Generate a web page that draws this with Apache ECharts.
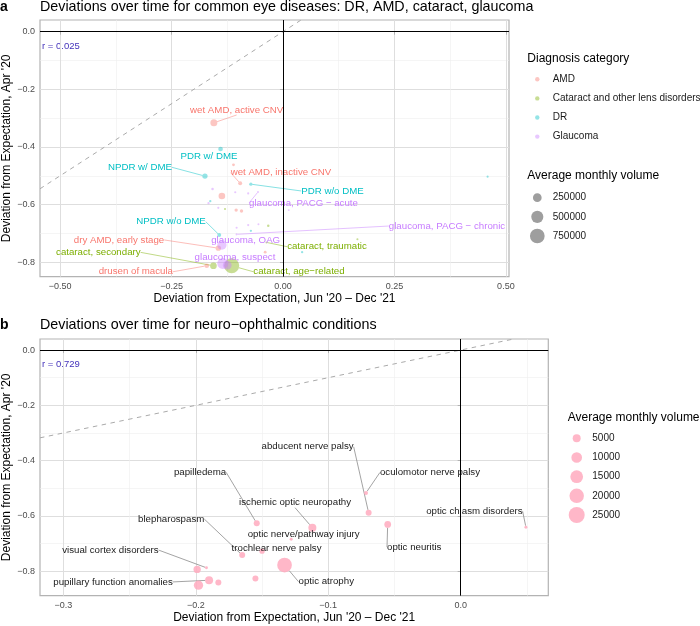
<!DOCTYPE html>
<html><head><meta charset="utf-8">
<script src="https://cdn.jsdelivr.net/npm/echarts@6/dist/echarts.min.js"></script>
<style>html,body{margin:0;padding:0;background:#fff}#c{width:700px;height:626px}</style>
</head><body><div id="c"></div>
<script>
// ---------------- Panel a data ----------------
const amdNames = ['wet AMD, active CNV','','wet AMD, inactive CNV','','','','dry AMD, early stage','','drusen of macula'];
const amdX = [-0.155,-0.111,-0.096,-0.137,-0.105,-0.093,-0.145,-0.040,-0.171];
const amdY = [-0.316,-0.462,-0.526,-0.570,-0.619,-0.622,-0.751,-0.765,-0.812];
const amdVol = [157000,20000,45000,140000,30000,30000,86000,20000,65000];

const catNames = ['','','cataract, traumatic','','cataract, secondary','cataract, age\u2212related'];
const catX = [-0.130,-0.033,-0.037,0.167,-0.156,-0.115];
const catY = [-0.615,-0.673,-0.731,-0.720,-0.812,-0.812];
const catVol = [10000,15000,8000,10000,143000,780000];

const drNames = ['PDR w/ DME','NPDR w/ DME','PDR w/o DME','','NPDR w/o DME','','',''];
const drX = [-0.140,-0.175,-0.072,-0.163,-0.143,-0.072,0.043,0.459];
const drY = [-0.407,-0.501,-0.529,-0.588,-0.705,-0.691,-0.765,-0.503];
const drVol = [65000,86000,30000,12000,45000,12000,12000,10000];

const glaNames = ['','','','glaucoma, PACG \u2212 acute','','','','','','','glaucoma, PACG \u2212 chronic','glaucoma, OAG','glaucoma, suspect',''];
const glaX = [-0.158,-0.107,-0.078,-0.056,0.013,-0.167,-0.145,-0.104,-0.078,-0.055,-0.104,-0.137,-0.135,-0.125];
const glaY = [-0.546,-0.557,-0.561,-0.556,-0.619,-0.595,-0.611,-0.680,-0.671,-0.668,-0.703,-0.740,-0.804,-0.810];
const glaVol = [15000,10000,10000,8000,8000,12000,10000,10000,10000,8000,10000,290000,410000,250000];

const categoriesA = ['AMD','Cataract and other lens disorders','DR','Glaucoma'];
const sizeBreaksA = [250000,500000,750000];
const xTicksA = [-0.5,-0.25,0,0.25,0.5];
const xMinorA = [-0.375,-0.125,0.125,0.375];
const yTicksA = [0,-0.2,-0.4,-0.6,-0.8];
const yMinorA = [-0.1,-0.3,-0.5,-0.7];
const rA = 'r = 0.025';

// ---------------- Panel b data ----------------
const neuroNames = ['visual cortex disorders','','','pupillary function anomalies','','blepharospasm','trochlear nerve palsy','papilledema','','optic atrophy','ischemic optic neuropathy','optic nerve/pathway injury','abducent nerve palsy','oculomotor nerve palsy','optic neuritis','optic chiasm disorders'];
const neuroX = [-0.192,-0.199,-0.198,-0.190,-0.183,-0.165,-0.150,-0.154,-0.155,-0.133,-0.112,-0.128,-0.0695,-0.0715,-0.0551,0.0493];
const neuroY = [-0.788,-0.794,-0.851,-0.833,-0.841,-0.742,-0.728,-0.627,-0.827,-0.778,-0.643,-0.685,-0.589,-0.517,-0.631,-0.641];
const neuroVol = [250,4000,7200,5000,2400,2400,1700,2400,2400,20700,5000,250,2400,730,3200,250];

const sizeBreaksB = [5000,10000,15000,20000,25000];
const xTicksB = [-0.3,-0.2,-0.1,0];
const xMinorB = [-0.25,-0.15,-0.05,0.05];
const yTicksB = [0,-0.2,-0.4,-0.6,-0.8];
const yMinorB = [-0.1,-0.3,-0.5,-0.7];
const rB = 'r = 0.729';

// ---------------- layout / style ----------------
const FONT = "'Liberation Sans', Arial, Helvetica, sans-serif";
const colA = {'AMD':'#F8766D','Cataract and other lens disorders':'#7CAE00','DR':'#00BFC4','Glaucoma':'#C77CFF'};
const ALPHA = 0.42;
const rgba = (hex, a) => { const n = parseInt(hex.slice(1), 16); return 'rgba(' + (n>>16) + ',' + ((n>>8)&255) + ',' + (n&255) + ',' + a + ')'; };
const PINK = 'rgba(255,170,190,0.85)';
const extA = {x:[-0.545,0.507], y:[-0.85,0.0406]};
const extB = {x:[-0.3177,0.0662], y:[-0.889,0.04]};
const gridA = {left:40, top:20, width:469, height:256.7};
const gridB = {left:40, top:339, width:508.3, height:256.7};
const sizeA = v => 0.0164*Math.sqrt(v)+0.5;
const sizeB = v => 0.0916*Math.sqrt(v)+1.52;

// label offsets (pixels, label centre relative to point)
const offA = {
 'wet AMD, active CNV':[22.8,-12.8], 'PDR w/ DME':[-11.6,7], 'NPDR w/ DME':[-65,-8.8],
 'wet AMD, inactive CNV':[40.8,-10.6], 'PDR w/o DME':[81.6,6.8], 'glaucoma, PACG \u2212 acute':[45.5,11],
 'NPDR w/o DME':[-48.2,-13.2], 'glaucoma, PACG \u2212 chronic':[210.4,-8.3], 'dry AMD, early stage':[-99.3,-8.2],
 'glaucoma, OAG':[23.8,-5], 'cataract, traumatic':[60.5,4.3], 'cataract, secondary':[-115.1,-13.4],
 'glaucoma, suspect':[12.2,-6.2], 'drusen of macula':[-70.9,6], 'cataract, age\u2212related':[67.3,6]
};
const offB = {
 'abducent nerve palsy':[-61,-66], 'oculomotor nerve palsy':[64,-20.4], 'papilledema':[-56.7,-51],
 'ischemic optic neuropathy':[-17.3,-25], 'blepharospasm':[-71,-36], 'optic nerve/pathway injury':[12.5,-5],
 'trochlear nerve palsy':[14.5,-2.7], 'visual cortex disorders':[-96,-17.7], 'pupillary function anomalies':[-96,1.7],
 'optic atrophy':[41.7,16.7], 'optic neuritis':[26.5,22.7], 'optic chiasm disorders':[-51.5,-16]
};
const noLine = new Set(['PDR w/ DME','glaucoma, OAG','glaucoma, suspect','trochlear nerve palsy','optic nerve/pathway injury']);

const fmt = d => v => (v < 0 ? '\u2212' : '') + Math.abs(v).toFixed(d);

function majorAxis(grid, ext, ticks, dec, pos, name, gap) {
  return {
    type:'value', gridIndex:grid, min:ext[0], max:ext[1], position:pos,
    axisLine:{show:false},
    axisTick:{show:true, customValues:ticks, length:3, lineStyle:{color:'#b3b3b3', width:1}},
    axisLabel:{show:true, customValues:ticks, formatter:fmt(dec), fontSize:9, color:'#4d4d4d', margin:5, fontFamily:FONT},
    splitLine:{show:true, lineStyle:{color:'#dedede', width:1}},
    minorTick:{show:false}, minorSplitLine:{show:false},
    name:name, nameLocation:'middle', nameGap:gap, nameMoveOverlap:false,
    nameTextStyle:{fontSize:12, color:'#000', fontFamily:FONT}
  };
}
function minorAxis(grid, ext, ticks, pos) {
  return {
    type:'value', gridIndex:grid, min:ext[0], max:ext[1], position:pos,
    axisLine:{show:false},
    axisTick:{show:false, customValues:ticks},
    axisLabel:{show:false, customValues:ticks},
    splitLine:{show:true, lineStyle:{color:'#efefef', width:0.6}}
  };
}

function scatter(sname, names, xs, ys, vols, color, xi, yi, sizeFn, offs, labelColor, lineColor) {
  const data = names.map((n,i) => ({
    name:n, value:[xs[i], ys[i], vols[i]],
    label:{show:n !== ''},
    labelLine:{show:n !== '' && !noLine.has(n)}
  }));
  return {
    type:'scatter', name:sname, xAxisIndex:xi, yAxisIndex:yi, data,
    symbolSize: v => sizeFn(v[2]),
    itemStyle:{color:color, opacity:1},
    label:{show:true, position:'inside', formatter:'{b}', color:labelColor, fontSize:9.7, fontFamily:FONT,
           textBorderWidth:0, textBorderColor:'transparent'},
    labelLine:{show:true, lineStyle:{color:lineColor, width:0.8}},
    labelLayout: p => { const o = offs[names[p.dataIndex]]; return o ? {dx:o[0], dy:o[1]} : {}; },
    emphasis:{disabled:true}, silent:true, z:3
  };
}

function refLines(xi, yi, ext) {
  const s = Math.max(ext.x[0], ext.y[0]), e = Math.min(ext.x[1], ext.y[1]);
  return {
    type:'line', xAxisIndex:xi, yAxisIndex:yi, data:[[s,s],[e,e]], symbol:'none', silent:true, z:2,
    lineStyle:{color:'#aaaaaa', type:[4.5,4.5], width:1},
    markLine:{silent:true, symbol:'none', animation:false, label:{show:false},
      lineStyle:{color:'#000', type:'solid', width:1}, data:[{xAxis:0},{yAxis:0}]}
  };
}

const catSeries = (cat, names, xs, ys, vols) =>
  scatter(cat, names, xs, ys, vols, rgba(colA[cat], ALPHA), 0, 0, sizeA, offA, colA[cat], rgba(colA[cat], 0.6));

const series = [
  refLines(0,0,extA),
  catSeries('AMD', amdNames, amdX, amdY, amdVol),
  catSeries('Cataract and other lens disorders', catNames, catX, catY, catVol),
  catSeries('DR', drNames, drX, drY, drVol),
  catSeries('Glaucoma', glaNames, glaX, glaY, glaVol),
  refLines(2,2,extB),
  scatter('Neuro', neuroNames, neuroX, neuroY, neuroVol, PINK, 2, 2, sizeB, offB, '#1a1a1a', '#8c8c8c')
];

// ---------- graphics: titles, r text, legends ----------
const g = [];
const txt = (x, y, text, size, fill, weight, align) => g.push({type:'text', x, y, silent:true,
  style:{text, fontSize:size, fill:fill||'#000', fontWeight:weight||'normal', fontFamily:FONT, align:align||'left', verticalAlign:'middle'}});
txt(0, 7, 'a', 14, '#000', 'bold');
txt(40, 7.5, 'Deviations over time for common eye diseases: DR, AMD, cataract, glaucoma', 14.3);
txt(0, 325, 'b', 14, '#000', 'bold');
txt(40, 325.5, 'Deviations over time for neuro\u2212ophthalmic conditions', 14.3);
txt(gridA.left + 2, gridA.top + 26, rA, 9.5, '#4433bb');
txt(gridB.left + 2, gridB.top + 25.5, rB, 9.5, '#4433bb');

// legend a: colour
txt(527.3, 58.3, 'Diagnosis category', 12);
categoriesA.forEach((c, i) => {
  const cy = 79.3 + i*19.1;
  g.push({type:'circle', silent:true, shape:{cx:537.3, cy, r:2.2}, style:{fill:rgba(colA[c], ALPHA)}});
  txt(552.7, cy, c, 10, '#1a1a1a');
});
// legend a: size
txt(527.3, 176, 'Average monthly volume', 12);
sizeBreaksA.forEach((v, i) => {
  const cy = 197.7 + i*19.15;
  g.push({type:'circle', silent:true, shape:{cx:537.3, cy, r:sizeA(v)/2}, style:{fill:'#9e9e9e'}});
  txt(552.7, cy, String(v), 10, '#1a1a1a');
});
// legend b: size
txt(567.7, 417.3, 'Average monthly volume', 12);
sizeBreaksB.forEach((v, i) => {
  const cy = 438.3 + i*19.17;
  g.push({type:'circle', silent:true, shape:{cx:576.7, cy, r:sizeB(v)/2}, style:{fill:PINK}});
  txt(592.3, cy, String(v), 10, '#1a1a1a');
});

const gridStyle = {show:true, borderColor:'#b3b3b3', borderWidth:1.2, backgroundColor:'#fff', containLabel:false, outerBoundsMode:'none'};
const option = {
  animation:false,
  backgroundColor:'#fff',
  textStyle:{fontFamily:FONT},
  grid:[Object.assign({}, gridStyle, gridA), Object.assign({}, gridStyle, gridB)],
  xAxis:[
    majorAxis(0, extA.x, xTicksA, 2, 'bottom', 'Deviation from Expectation, Jun \'20 \u2013 Dec \'21', 16.3),
    minorAxis(0, extA.x, xMinorA, 'top'),
    majorAxis(1, extB.x, xTicksB, 1, 'bottom', 'Deviation from Expectation, Jun \'20 \u2013 Dec \'21', 16),
    minorAxis(1, extB.x, xMinorB, 'top')
  ],
  yAxis:[
    majorAxis(0, extA.y, yTicksA, 1, 'left', 'Deviation from Expectation, Apr \'20', 27),
    minorAxis(0, extA.y, yMinorA, 'right'),
    majorAxis(1, extB.y, yTicksB, 1, 'left', 'Deviation from Expectation, Apr \'20', 27),
    minorAxis(1, extB.y, yMinorB, 'right')
  ],
  series,
  graphic:g
};
const chart = echarts.init(document.getElementById('c'), null, {renderer:'canvas'});
chart.setOption(option);
</script></body></html>
